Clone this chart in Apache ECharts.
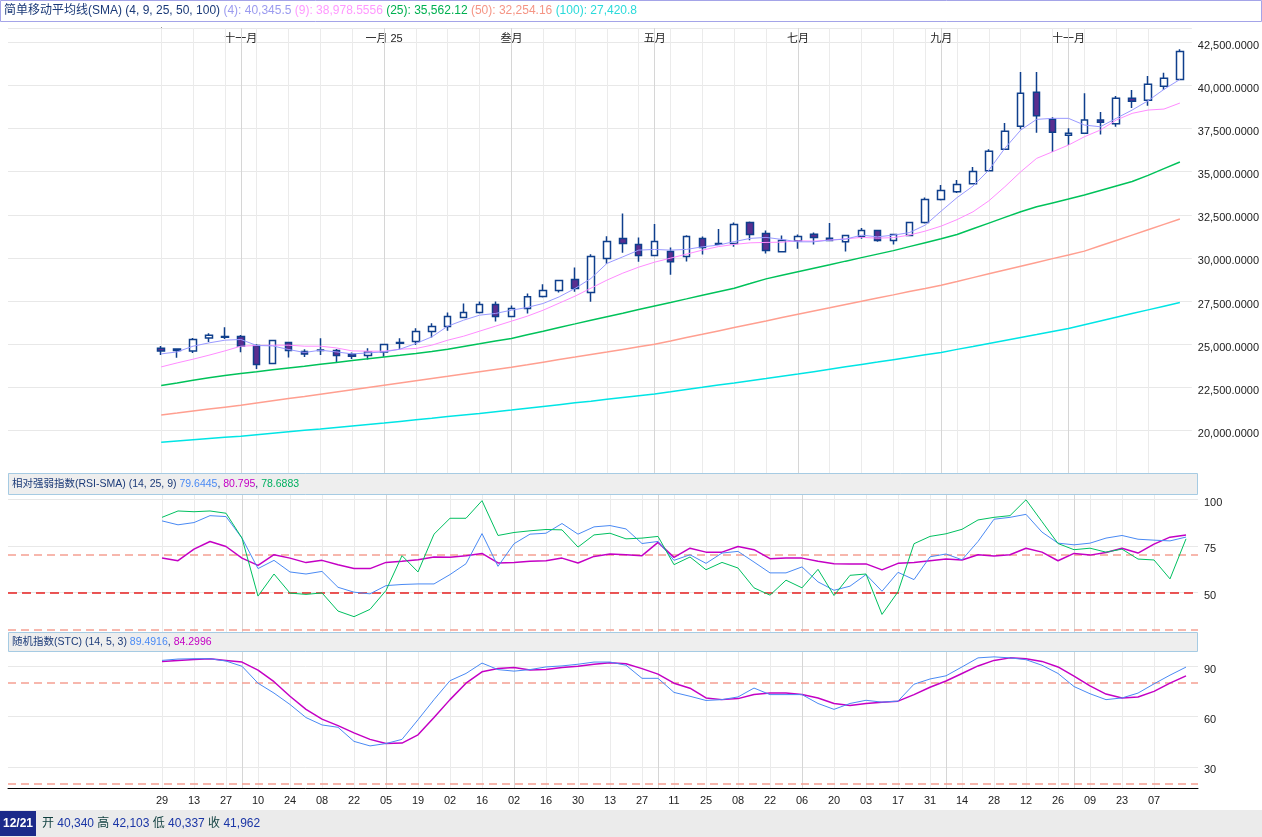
<!DOCTYPE html>
<html><head><meta charset="utf-8">
<script src="https://cdn.jsdelivr.net/npm/echarts@6/dist/echarts.min.js"></script>
<style>html,body{margin:0;padding:0;background:#fff;}#c{width:1262px;height:837px;}</style>
</head><body><div id="c"></div>
<script>
// ---- data (weekly, 2024-09-29 .. 2025-12-21) ----
const OPEN = [24770,24720,24612,25367,25400,25448,24926,23882,25100,24578,
24640,24636,24421,24346,24555,25050,25158,25738,26028,26550,
26840,27304,26608,27072,27768,28116,28754,28000,29972,31132,
30784,30146,30378,30088,31132,30790,30842,32060,31422,30355,
30993,31381,31149,30935,31248,31596,31016,31306,32060,33394,
33835,34299,35053,36294,37628,39600,38034,37106,37222,37993,
37779,39252,39136,39948,40340];
const CLOSE = [24610,24630,25274,25523,25440,24903,23824,25216,24636,24439,
24660,24346,24305,24555,24984,25100,25738,26028,26608,26840,
27304,26608,27072,27745,28116,28696,28232,30088,30958,30842,
30146,30958,29775,31248,30610,30840,31944,31364,30436,31016,
31248,31190,31016,31306,31596,31016,31364,32060,33394,33916,
34264,35018,36178,37338,39542,38243,37280,37222,37993,37860,
39252,39078,40064,40412,41962];
const LOW = [24380,24210,24496,25135,25309,24537,23569,23870,24230,24265,
24381,23957,24148,24114,24268,24729,24961,25390,25773,26550,
26782,26318,26608,26782,27710,28000,28035,27455,29659,30297,
29775,30146,29021,29798,30204,30744,30644,31033,30262,30320,
30529,30784,30993,30378,31109,30935,30784,31265,32002,33336,
33760,34299,35018,36294,37454,37257,36137,36543,37200,37152,
37605,38689,38823,39733,40337];
const HIGH = [24890,24760,25365,25639,25987,25541,24999,25230,25120,24711,
25349,24729,24520,24770,25000,25349,25929,26219,26840,27362,
27478,27478,27246,27942,28481,28720,29450,30221,31265,32582,
31190,31961,30610,31323,31248,31671,32060,32118,31596,31306,
31364,31480,32019,31306,31729,31620,31380,32095,33510,34223,
34513,35267,36294,37819,40777,40777,38150,37512,39542,38457,
39385,39733,40545,40737,42103];
const SMA4 = [24438,24554,24885,25076,25233,25274,24926,24902,24694,24520,
24653,24554,24438,24496,24554,24711,25042,25424,26045,26393,
26683,26782,26973,27130,27362,27744,28232,28812,29682,30064,
30453,30494,30453,30494,30644,30743,30946,31132,31190,31074,
30934,30934,31033,31091,31323,31224,31323,31468,31903,32715,
33498,34165,35093,36352,37413,38034,38092,38092,37703,37604,
38092,38573,39112,39774,40345.5];
const SMA9 = [23684,23916,24131,24363,24612,24885,24926,24943,24943,24885,
24885,24786,24612,24595,24595,24711,24752,24943,25233,25465,
25755,26045,26335,26625,26973,27379,27785,28249,28713,29119,
29467,29757,29989,30221,30453,30656,30784,30876,30900,30917,
30992,30975,31033,31108,31190,31149,31178,31323,31555,31845,
32222,32674,33312,34124,34994,35772,36154,36543,37024,37413,
37993,38382,38573,38631,38978.5556];
const SMA25 = [22606,22756,22913,23058,23180,23302,23406,23516,23621,23725,
23841,23945,24050,24154,24264,24363,24467,24572,24711,24868,
25024,25187,25337,25552,25755,25970,26178,26393,26596,26799,
27014,27217,27420,27628,27843,28046,28249,28516,28788,28997,
29200,29403,29606,29815,30018,30221,30424,30656,30882,31108,
31358,31688,32019,32350,32680,32964,33191,33417,33649,33910,
34171,34432,34786,35180,35562.12];
const SMA50 = [20900,21010,21125,21240,21350,21463,21590,21720,21850,21975,
22105,22235,22365,22495,22623,22750,22880,23010,23140,23275,
23405,23535,23667,23810,23960,24110,24255,24405,24550,24700,
24850,25000,25190,25385,25575,25770,25965,26160,26350,26545,
26740,26925,27110,27300,27485,27675,27860,28050,28235,28423,
28640,28860,29080,29300,29520,29740,29960,30175,30395,30705,
31015,31325,31635,31945,32254.16];
const SMA100 = [19320,19390,19460,19530,19600,19670,19755,19840,19925,20010,
20090,20175,20260,20345,20430,20525,20620,20710,20805,20900,
20990,21085,21180,21285,21390,21495,21600,21700,21805,21910,
22015,22120,22245,22375,22500,22630,22755,22885,23010,23140,
23270,23410,23550,23690,23830,23965,24105,24245,24385,24525,
24700,24870,25045,25220,25395,25565,25740,25915,26130,26345,
26560,26775,26990,27205,27420.8];
const RSI = [88.3,86.2,87.4,91.1,90.6,79.1,62.8,67.2,61.0,59.9,
61.3,52.8,50.2,49.3,53.7,54.3,54.6,54.6,59.6,65.4,
81.5,64.0,76.1,81.2,81.7,86.9,81.2,85.1,85.8,84.0,
76.2,77.3,67.2,70.2,65.6,71.1,72.0,66.3,60.5,60.5,
63.7,55.7,51.2,53.4,59.6,50.7,60.8,56.9,69.1,70.6,
67.5,77.3,89.2,90.2,91.8,82.3,76.4,75.5,76.4,79.1,
80.5,78.5,78.0,77.6,79.6445];
const RSI_SMA25 = [68.4,67.0,73.2,77.3,74.6,68.4,64.5,70.2,68.4,66.0,
67.2,64.9,62.8,62.8,66.1,66.7,67.5,69.0,68.8,69.7,
70.9,65.8,66.1,66.7,67.0,68.4,65.8,69.3,70.6,70.2,
69.7,76.8,68.8,73.7,71.6,71.6,74.6,72.9,68.1,68.4,
68.4,66.7,65.4,65.3,65.3,62.1,65.6,66.1,67.0,67.9,
67.4,70.2,69.5,70.2,73.7,71.6,67.0,70.9,70.0,71.4,
73.7,71.1,75.9,79.6,80.795];
const RSI_SMA9 = [90.2,93.6,93.2,93.6,92.4,79.1,48.1,59.9,49.7,49.0,
49.8,40.1,37.1,41.0,51.1,69.7,61.0,81.2,89.7,89.7,
99.1,80.5,82.1,83.0,83.7,83.5,74.3,80.8,81.7,78.7,
79.1,80.0,64.9,69.0,62.2,66.1,63.1,52.5,48.6,56.6,
52.5,62.4,48.4,59.2,59.9,38.3,50.4,76.1,80.0,81.4,
83.8,88.8,90.2,91.1,99.6,87.9,76.2,72.9,73.7,71.6,
73.2,67.9,67.4,57.3,78.6883];
const STC_K = [93.5,94.3,94.5,94.5,93.1,90.0,79.9,74.0,67.2,59.4,
55.0,53.6,45.2,42.5,43.9,46.4,58.1,70.1,81.4,85.7,
91.9,88.0,87.1,88.0,89.6,90.2,91.2,92.5,92.5,90.6,
82.8,82.8,74.4,72.1,69.6,70.1,71.7,77.0,73.1,73.1,
73.1,67.8,64.3,67.8,69.7,68.6,69.2,79.3,82.4,84.3,
89.6,95.0,95.6,95.0,93.9,90.6,85.7,77.9,73.6,70.1,
71.1,74.0,79.5,84.7,89.4916];
const STC_D = [92.9,93.5,94.1,94.5,93.5,92.5,87.7,80.8,72.1,64.3,
58.5,54.6,50.3,46.4,43.9,44.2,49.1,59.4,70.1,79.9,
86.7,88.6,89.2,87.7,88.0,89.2,90.0,91.2,92.1,91.5,
88.6,85.3,79.9,76.9,71.1,70.1,70.7,73.1,74.0,74.0,
73.1,71.1,67.8,66.6,67.8,68.6,69.2,73.1,77.5,81.2,
85.7,90.2,93.5,95.0,94.5,92.9,89.6,84.1,78.3,73.4,
71.1,71.7,75.0,79.9,84.2996];
const TICK_LABELS = ['29','13','27','10','24','08','22','05','19','02','16','02','16','30','13','27',
'11','25','08','22','06','20','03','17','31','14','28','12','26','09','23','07'];
const MONTH_LABELS = ['十一月','一月 25','叁月','五月','七月','九月','十一月'];
const MONTH_WEEKS = [5,14,22,31,40,49,57];
const LAST_DATE = '12/21';

// ---- helpers ----
const FONT = 'Liberation Sans, Noto Sans CJK SC, sans-serif';
const TICK_WEEKS = TICK_LABELS.map((_, k) => 2 * k);
const pair = a => a.map((v, i) => [i, v]);
const last = a => a[a.length - 1];
const fmtN = v => v.toLocaleString('en-US', {maximumFractionDigits: 4});
const fmt4 = v => v.toLocaleString('en-US', {minimumFractionDigits: 4, maximumFractionDigits: 4});
const X_MIN = -9.625, X_MAX = 64.75;

const vLines = TICK_WEEKS.map(w => ({xAxis: w, lineStyle: {color: '#ebebeb', width: 1, type: 'solid'}}))
  .concat(MONTH_WEEKS.map(w => ({xAxis: w, lineStyle: {color: '#d6d6d6', width: 1, type: 'solid'}})));
const pinkDash = {color: '#f5a093', width: 1.5, type: [8, 5]};
function gridLines(g, extra) {
  return {type: 'line', xAxisIndex: g === 0 ? 0 : g + 1, yAxisIndex: g, data: [], silent: true, z: 1,
    markLine: {z: 1, silent: true, symbol: ['none', 'none'], label: {show: false}, animation: false,
      data: vLines.concat(extra || [])}};
}
function xHidden(g) {
  return {gridIndex: g, type: 'value', min: X_MIN, max: X_MAX, axisLine: {show: false},
    axisTick: {show: false}, axisLabel: {show: false}, splitLine: {show: false}};
}
const yRich = {a: {color: '#222', fontSize: 11, fontFamily: FONT, padding: [7, 0, 0, 0]}};
function line(g, arr, color, width) {
  return {type: 'line', xAxisIndex: g === 0 ? 0 : g + 1, yAxisIndex: g, data: pair(arr), symbol: 'none',
    showSymbol: false, silent: true, z: 3, lineStyle: {color: color, width: width}};
}

const option = {
  animation: false,
  backgroundColor: '#fff',
  textStyle: {fontFamily: FONT},
  grid: [
    {left: 8, right: 64, top: 28, height: 445.6},
    {left: 8, right: 64, top: 495, height: 137},
    {left: 8, right: 64, top: 652, height: 136}
  ],
  xAxis: [
    xHidden(0),
    {gridIndex: 0, type: 'value', position: 'top', min: X_MIN, max: X_MAX, axisLine: {show: false},
      axisTick: {show: false}, splitLine: {show: false},
      axisLabel: {inside: true, margin: 5, color: '#222', fontSize: 11, fontFamily: FONT,
        customValues: MONTH_WEEKS, formatter: v => MONTH_LABELS[MONTH_WEEKS.indexOf(Math.round(v))]}},
    xHidden(1),
    {gridIndex: 2, type: 'value', min: X_MIN, max: X_MAX,
      axisLine: {show: true, lineStyle: {color: '#000', width: 1}}, axisTick: {show: false}, splitLine: {show: false},
      axisLabel: {color: '#222', fontSize: 11, fontFamily: FONT, margin: 7,
        customValues: TICK_WEEKS, formatter: v => TICK_LABELS[Math.round(v) / 2]}}
  ],
  yAxis: [
    {gridIndex: 0, type: 'value', position: 'right', min: 17500, max: 43329, interval: 2500,
      axisLine: {show: true, lineStyle: {color: '#000'}}, axisTick: {show: false},
      axisLabel: {margin: 6, showMinLabel: false, showMaxLabel: false, rich: yRich, formatter: v => '{a|' + fmt4(v) + '}'},
      splitLine: {show: true, lineStyle: {color: '#e8e8e8'}}},
    {gridIndex: 1, type: 'value', position: 'right', min: 28.9, max: 102.14,
      axisLine: {show: true, lineStyle: {color: '#000'}}, axisTick: {show: false, customValues: [50, 75, 100]},
      axisLabel: {margin: 6, customValues: [50, 75, 100], rich: yRich, formatter: v => '{a|' + v + '}'},
      splitLine: {show: true, lineStyle: {color: '#e8e8e8'}}},
    {gridIndex: 2, type: 'value', position: 'right', min: 17.4, max: 98.5,
      axisLine: {show: true, lineStyle: {color: '#000'}}, axisTick: {show: false, customValues: [30, 60, 90]},
      axisLabel: {margin: 6, customValues: [30, 60, 90], rich: yRich, formatter: v => '{a|' + v + '}'},
      splitLine: {show: true, lineStyle: {color: '#e8e8e8'}}}
  ],
  series: [
    gridLines(0),
    {type: 'candlestick', xAxisIndex: 0, yAxisIndex: 0, barWidth: 7, silent: true, z: 2,
      data: OPEN.map((o, i) => [i, o, CLOSE[i], LOW[i], HIGH[i]]),
      itemStyle: {color: '#ffffff', color0: '#5a2e8f', borderColor: '#0f3f8c', borderColor0: '#0f3f8c', borderWidth: 1.5}},
    line(0, SMA100, '#00e5e5', 1.5),
    line(0, SMA50, '#ff9f90', 1.5),
    line(0, SMA25, '#00c25a', 1.5),
    line(0, SMA9, '#ff8cff', 1),
    line(0, SMA4, '#9999ff', 1),
    gridLines(1, [{yAxis: 70, lineStyle: pinkDash}, {yAxis: 30, lineStyle: pinkDash},
      {yAxis: 50, lineStyle: {color: '#e62020', width: 1.5, type: [9, 5]}}]),
    line(1, RSI_SMA25, '#c400c4', 1.5),
    line(1, RSI, '#4a8af4', 1),
    line(1, RSI_SMA9, '#00c060', 1),
    gridLines(2, [{yAxis: 80, lineStyle: pinkDash}, {yAxis: 20, lineStyle: pinkDash}]),
    line(2, STC_D, '#c400c4', 1.5),
    line(2, STC_K, '#4a8af4', 1)
  ],
  graphic: [
    {type: 'rect', z: 50, shape: {x: 0.5, y: 0.5, width: 1261, height: 21}, style: {fill: '#fff', stroke: '#a4a4e8', lineWidth: 1}},
    {type: 'text', z: 51, x: 4, y: 11, style: {
      text: '{t|简单移动平均线(SMA) (4, 9, 25, 50, 100)} {a|(4): ' + fmtN(last(SMA4)) + '} {b|(9): ' + fmtN(last(SMA9)) +
        '} {c|(25): ' + fmtN(last(SMA25)) + '} {d|(50): ' + fmtN(last(SMA50)) + '} {e|(100): ' + fmtN(last(SMA100)) + '}',
      verticalAlign: 'middle', font: '12px ' + FONT,
      rich: {t: {fill: '#1b3a78', font: '12px ' + FONT}, a: {fill: '#9b9bef', font: '12px ' + FONT},
        b: {fill: '#ff99ff', font: '12px ' + FONT}, c: {fill: '#00b050', font: '12px ' + FONT},
        d: {fill: '#f59585', font: '12px ' + FONT}, e: {fill: '#2adada', font: '12px ' + FONT}}}},
    {type: 'rect', z: 50, shape: {x: 8.5, y: 473.5, width: 1189, height: 21}, style: {fill: '#eeeeee', stroke: '#a6cbe3', lineWidth: 1}},
    {type: 'text', z: 51, x: 12, y: 484.5, style: {
      text: '{t|相对强弱指数(RSI-SMA) (14, 25, 9) }{b|' + fmtN(last(RSI)) + '}{t|, }{m|' + fmtN(last(RSI_SMA25)) + '}{t|, }{g|' + fmtN(last(RSI_SMA9)) + '}',
      verticalAlign: 'middle', font: '10.5px ' + FONT,
      rich: {t: {fill: '#1b3a78', font: '10.5px ' + FONT}, b: {fill: '#4a8af4', font: '10.5px ' + FONT},
        m: {fill: '#c400c4', font: '10.5px ' + FONT}, g: {fill: '#00b060', font: '10.5px ' + FONT}}}},
    {type: 'rect', z: 50, shape: {x: 8.5, y: 632.5, width: 1189, height: 19}, style: {fill: '#eeeeee', stroke: '#a6cbe3', lineWidth: 1}},
    {type: 'text', z: 51, x: 12, y: 642.5, style: {
      text: '{t|随机指数(STC) (14, 5, 3) }{b|' + fmtN(last(STC_K)) + '}{t|, }{m|' + fmtN(last(STC_D)) + '}',
      verticalAlign: 'middle', font: '10.5px ' + FONT,
      rich: {t: {fill: '#1b3a78', font: '10.5px ' + FONT}, b: {fill: '#4a8af4', font: '10.5px ' + FONT},
        m: {fill: '#c400c4', font: '10.5px ' + FONT}}}},
    {type: 'rect', z: 50, shape: {x: 0, y: 810, width: 1262, height: 27}, style: {fill: '#ebebeb'}},
    {type: 'rect', z: 51, shape: {x: 0, y: 811, width: 36, height: 25}, style: {fill: '#1b2a8a'}},
    {type: 'text', z: 52, x: 18, y: 823.5, style: {text: LAST_DATE, fill: '#fff', font: 'bold 12px ' + FONT, align: 'center', verticalAlign: 'middle'}},
    {type: 'text', z: 52, x: 42, y: 823.5, style: {
      text: '{l|开 }{n|' + fmtN(last(OPEN)) + '}{l| 高 }{n|' + fmtN(last(HIGH)) + '}{l| 低 }{n|' + fmtN(last(LOW)) + '}{l| 收 }{n|' + fmtN(last(CLOSE)) + '}',
      verticalAlign: 'middle', font: '12px ' + FONT,
      rich: {l: {fill: '#0e3e3e', font: '12px ' + FONT}, n: {fill: '#1b36a6', font: '12px ' + FONT}}}}
  ]
};
const chart = echarts.init(document.getElementById('c'), null, {renderer: 'canvas'});
chart.setOption(option);
</script>
</body></html>
